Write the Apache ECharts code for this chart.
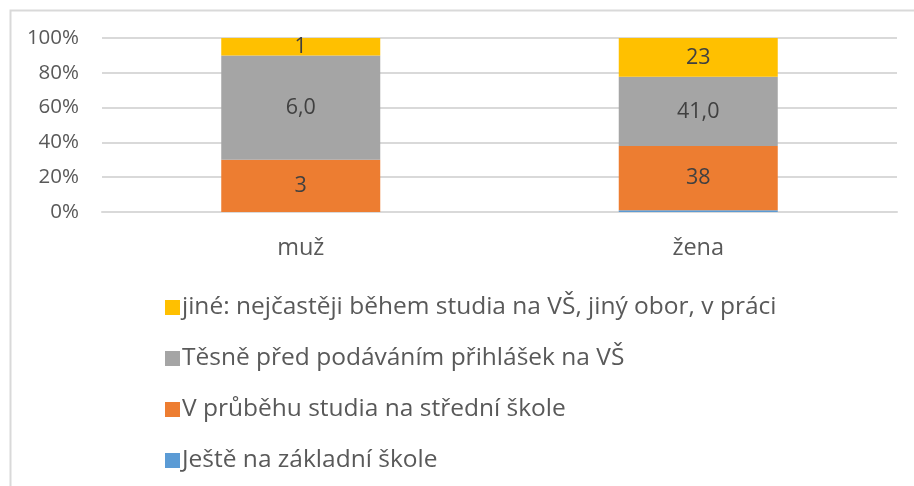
<!DOCTYPE html>
<html>
<head>
<meta charset="utf-8">
<script src="https://cdn.jsdelivr.net/npm/echarts@6/dist/echarts.min.js"></script>
<style>
  html, body { margin: 0; padding: 0; background: #fff; }
  #chart { width: 914px; height: 486px; }
</style>
</head>
<body>
<div id="chart"></div>
<script>
// data
const categories = ['muž', 'žena'];
const jesteZS = [0, 1];      // Ještě na základní škole
const vPrubehuSS = [3, 38];  // V průběhu studia na střední škole
const tesnePred = [6, 41];   // Těsně před podáváním přihlášek na VŠ
const jine = [1, 23];        // jiné
const seriesNames = [
  'Ještě na základní škole',
  'V průběhu studia na střední škole',
  'Těsně před podáváním přihlášek na VŠ',
  'jiné: nejčastěji během studia na VŠ, jiný obor, v práci'
];

const FONT = '"Open Sans", "Noto Sans", sans-serif';
const TEXT = '#595959';

let chart = echarts.init(document.getElementById('chart'));

let raw = [jesteZS, vPrubehuSS, tesnePred, jine];
let totals = categories.map((c, i) => raw.reduce((s, arr) => s + arr[i], 0));
let colors = ['#5B9BD5', '#ED7D31', '#A5A5A5', '#FFC000'];

function makeSeries(k, fmt, showLabel) {
  return {
    name: seriesNames[k],
    type: 'bar',
    stack: 'total',
    barWidth: '40%',
    itemStyle: { color: colors[k] },
    label: {
      show: showLabel,
      position: 'inside',
      color: '#404040',
      fontFamily: FONT,
      fontSize: 21.5,
      formatter: p => fmt(raw[k][p.dataIndex])
    },
    emphasis: { disabled: true },
    data: raw[k].map((v, i) => v / totals[i] * 100)
  };
}

let option = {
  animation: false,
  color: colors,
  graphic: [{
    type: 'rect',
    left: 8, top: 8,
    shape: { width: 1000, height: 1000 },
    style: { fill: 'none', stroke: '#d9d9d9', lineWidth: 2 }
  }],
  grid: { left: 102, right: 17, top: 38, height: 174 },
  xAxis: {
    type: 'category',
    data: categories,
    axisLine: { lineStyle: { color: '#d9d9d9', width: 2 } },
    axisTick: { show: false },
    axisLabel: { color: TEXT, fontFamily: FONT, fontSize: 23.5, margin: 24 }
  },
  yAxis: {
    type: 'value',
    min: 0, max: 100, interval: 20,
    axisLine: { show: false },
    axisTick: { show: false },
    splitLine: { lineStyle: { color: '#d9d9d9', width: 2 } },
    axisLabel: { color: TEXT, fontFamily: FONT, fontSize: 20.5, margin: 23, formatter: '{value}%' }
  },
  legend: {
    orient: 'vertical',
    left: 160, top: 290,
    itemWidth: 15, itemHeight: 15,
    itemGap: 26,
    icon: 'rect',
    data: seriesNames.slice().reverse(),
    textStyle: { color: TEXT, fontFamily: FONT, fontSize: 24.5, lineHeight: 24, padding: [0, 0, 0, -3] }
  },
  series: [
    makeSeries(0, v => String(v), false),
    makeSeries(1, v => String(v), true),
    makeSeries(2, v => v.toFixed(1).replace('.', ','), true),
    makeSeries(3, v => String(v), true)
  ]
};

chart.setOption(option);
</script>
</body>
</html>
